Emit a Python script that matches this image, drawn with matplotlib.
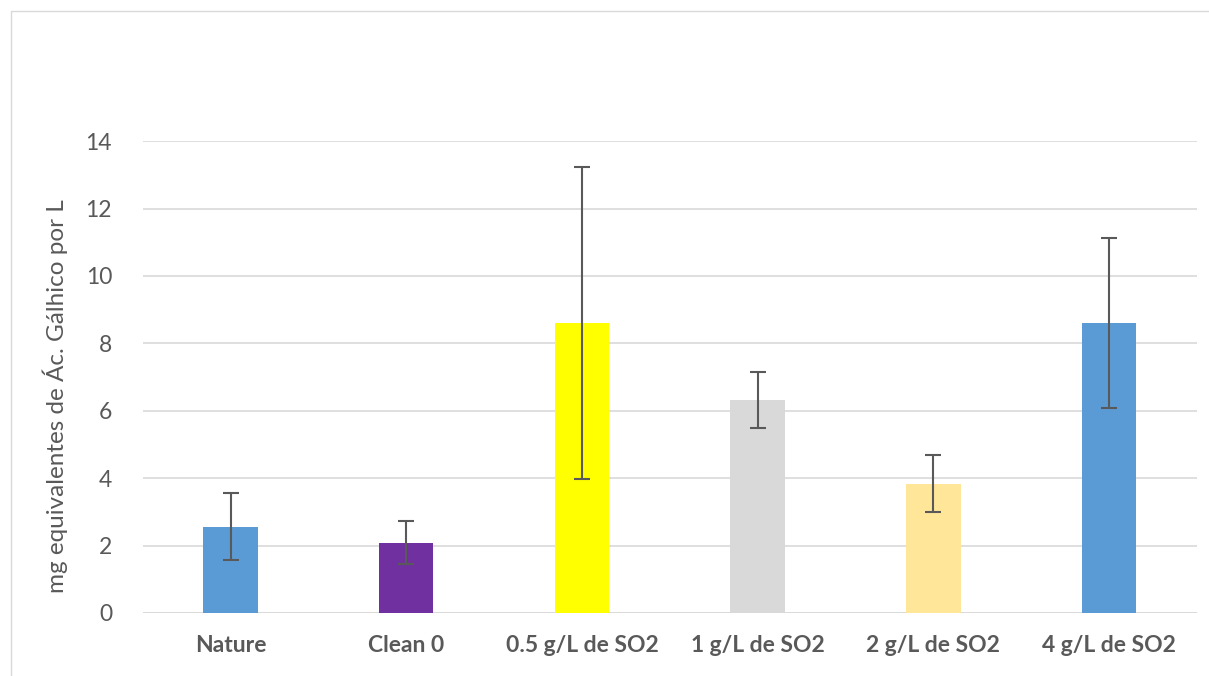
import matplotlib.pyplot as plt
from matplotlib.patches import Rectangle

categories = ['Nature', 'Clean 0', '0.5 g/L de SO2', '1 g/L de SO2', '2 g/L de SO2', '4 g/L de SO2']
values = [2.56, 2.09, 8.6, 6.32, 3.84, 8.6]
errors = [1.0, 0.63, 4.62, 0.84, 0.84, 2.52]
colors = ['#5B9BD5', '#7030A0', '#FFFF00', '#D9D9D9', '#FFE699', '#5B9BD5']

plt.rcParams['font.family'] = ['Lato', 'DejaVu Sans']

fig = plt.figure(figsize=(12.09, 6.76), dpi=100)
ax = fig.add_axes([0.118, 0.0932, 0.872, 0.698])

# chart frame like the office export
fig.patches.append(Rectangle((11 / 1209, -0.01), 1.0, 1 - 11 / 676 + 0.01,
                             transform=fig.transFigure, fill=False,
                             edgecolor='#D9D9D9', lw=1))

x = range(len(categories))
ax.bar(x, values, width=0.31, color=colors, zorder=2)
ax.errorbar(x, values, yerr=errors, fmt='none', ecolor='#595959',
            elinewidth=1.5, capsize=6, capthick=1.5, zorder=3)

ax.set_xlim(-0.5, 5.5)
ax.set_ylim(0, 14)
ax.set_yticks(range(0, 15, 2))
ax.grid(axis='y', color='#D9D9D9', lw=1.2, zorder=0)
for s in ax.spines.values():
    s.set_visible(False)
ax.axhline(0, color='#D9D9D9', lw=1.2, zorder=1)
ax.tick_params(length=0)
ax.tick_params(axis='y', labelsize=16.5, labelcolor='#595959', pad=22)
ax.set_xticks(list(x))
ax.set_xticklabels(categories, fontsize=16.5, fontweight='bold', color='#595959')
ax.tick_params(axis='x', pad=16)
ax.set_ylabel('mg equivalentes de Ác. Gálhico por L', fontsize=17.5, color='#595959')
ax.yaxis.set_label_coords(-0.071, 0.46)

fig.savefig('out.png', dpi=100)
